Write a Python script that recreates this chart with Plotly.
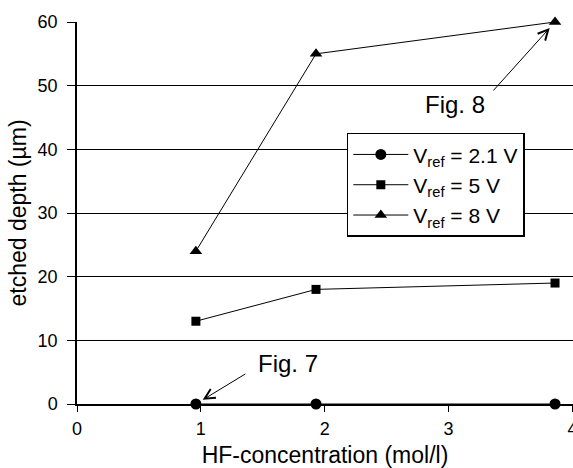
import plotly.graph_objects as go

# data
hf_conc = [0.96, 1.93, 3.86]
depth_21 = [0, 0, 0]
depth_5 = [13, 18, 19]
depth_8 = [24, 55, 60]
series_names = ["V<sub>ref</sub> = 2.1 V", "V<sub>ref</sub> = 5 V", "V<sub>ref</sub> = 8 V"]
y_ticks = [0, 10, 20, 30, 40, 50, 60]
x_ticks = [0, 1, 2, 3, 4]

FONT = "Liberation Sans, Arial, Helvetica, sans-serif"

fig = go.Figure()
for ys, name, sym, sz in [
    (depth_21, series_names[0], "circle", 11),
    (depth_5, series_names[1], "square", 9),
    (depth_8, series_names[2], "triangle-up", 11),
]:
    fig.add_trace(go.Scatter(
        x=hf_conc, y=ys, name=name, mode="lines+markers",
        line=dict(color="black", width=1),
        marker=dict(symbol=sym, size=sz, color="black"),
        cliponaxis=False,
    ))

# annotations (arrows to data points)
fig.add_annotation(x=hf_conc[0], y=depth_21[0], ax=51, ay=-31, text="",
                   showarrow=True, arrowhead=5, arrowsize=2, arrowwidth=1,
                   arrowcolor="black", standoff=8)
fig.add_annotation(x=hf_conc[0], y=depth_21[0], text="Fig. 7", showarrow=False,
                   xshift=92, yshift=41, font=dict(family=FONT, size=24, color="black"))
fig.add_annotation(x=hf_conc[2], y=depth_8[2], ax=-63, ay=70, text="",
                   showarrow=True, arrowhead=5, arrowsize=2, arrowwidth=1,
                   arrowcolor="black", standoff=8)
fig.add_annotation(x=hf_conc[2], y=depth_8[2], text="Fig. 8", showarrow=False,
                   xshift=-100, yshift=-82, font=dict(family=FONT, size=24, color="black"))

fig.update_layout(
    width=573, height=468,
    margin=dict(l=77, r=0, t=22, b=64, autoexpand=False),
    paper_bgcolor="white", plot_bgcolor="white",
    font=dict(family=FONT, size=18, color="black"),
    showlegend=True,
    legend=dict(
        x=0.544, y=0.71, xanchor="left", yanchor="top",
        bgcolor="white", bordercolor="black", borderwidth=1.5,
        font=dict(family=FONT, size=21, color="black"),
        itemwidth=55,
    ),
    xaxis=dict(
        range=[0, 4.005], tickvals=x_ticks, ticks="outside", ticklen=6, tickwidth=1,
        tickcolor="black", showgrid=False, zeroline=False,
        showline=True, linecolor="black", linewidth=1.5,
        title=dict(text="HF-concentration (mol/l)", font=dict(family=FONT, size=23), standoff=9),
        tickfont=dict(family=FONT, size=18),
        ticklabelstandoff=2,
        ticklabeloverflow="allow",
        automargin=False,
    ),
    yaxis=dict(
        range=[0, 60], tickvals=y_ticks, ticks="outside", ticklen=8, tickwidth=1,
        tickcolor="black", showgrid=True, gridcolor="black", gridwidth=1,
        zeroline=True, zerolinecolor="black", zerolinewidth=1.5,
        showline=True, linecolor="black", linewidth=1.5,
        title=dict(text="etched depth (µm)", font=dict(family=FONT, size=23), standoff=5),
        tickfont=dict(family=FONT, size=18),
        ticklabelstandoff=6,
        automargin=False,
    ),
)

fig.write_html("out.html")
